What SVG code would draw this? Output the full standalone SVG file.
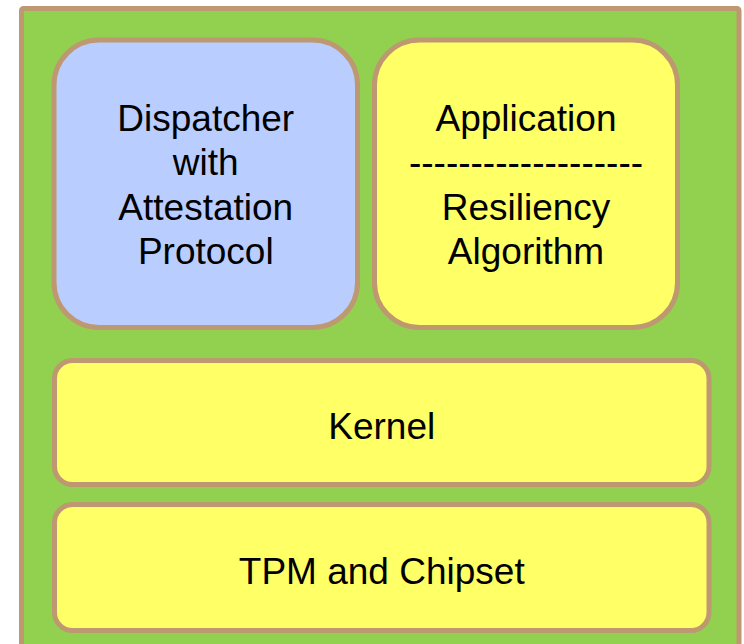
<svg xmlns="http://www.w3.org/2000/svg" width="744" height="644" viewBox="0 0 744 644">
  <style>
    .frame { stroke: #BD9870; stroke-width: 5; }
    .label { font-family: "Liberation Sans", Arial, sans-serif; font-size: 37px; fill: #000; text-anchor: middle; }
  </style>
  <rect width="744" height="644" fill="#FFFFFF"/>

  <!-- platform container -->
  <g id="platform">
    <rect class="frame" x="21.5" y="8.5" width="717.5" height="660" rx="2" fill="#92D050"/>
  </g>

  <g id="dispatcher">
    <rect class="frame" x="54" y="40" width="303.5" height="287.5" rx="45" fill="#B9CDFF"/>
    <text class="label" x="205.75" y="131">Dispatcher</text>
    <text class="label" x="205.75" y="175">with</text>
    <text class="label" x="205.75" y="220">Attestation</text>
    <text class="label" x="205.75" y="264">Protocol</text>
  </g>

  <g id="application">
    <rect class="frame" x="374.5" y="40" width="303" height="287.5" rx="45" fill="#FFFF66"/>
    <text class="label" x="526" y="131">Application</text>
    <text class="label" x="526" y="175">-------------------</text>
    <text class="label" x="526" y="220">Resiliency</text>
    <text class="label" x="526" y="264">Algorithm</text>
  </g>

  <g id="kernel">
    <rect class="frame" x="54.5" y="360.5" width="654.5" height="124" rx="18" fill="#FFFF66"/>
    <text class="label" x="381.75" y="439">Kernel</text>
  </g>

  <g id="tpm">
    <rect class="frame" x="54.5" y="504.5" width="654.5" height="126" rx="18" fill="#FFFF66"/>
    <text class="label" x="381.75" y="584">TPM and Chipset</text>
  </g>

  <g id="connectors"></g>
</svg>
